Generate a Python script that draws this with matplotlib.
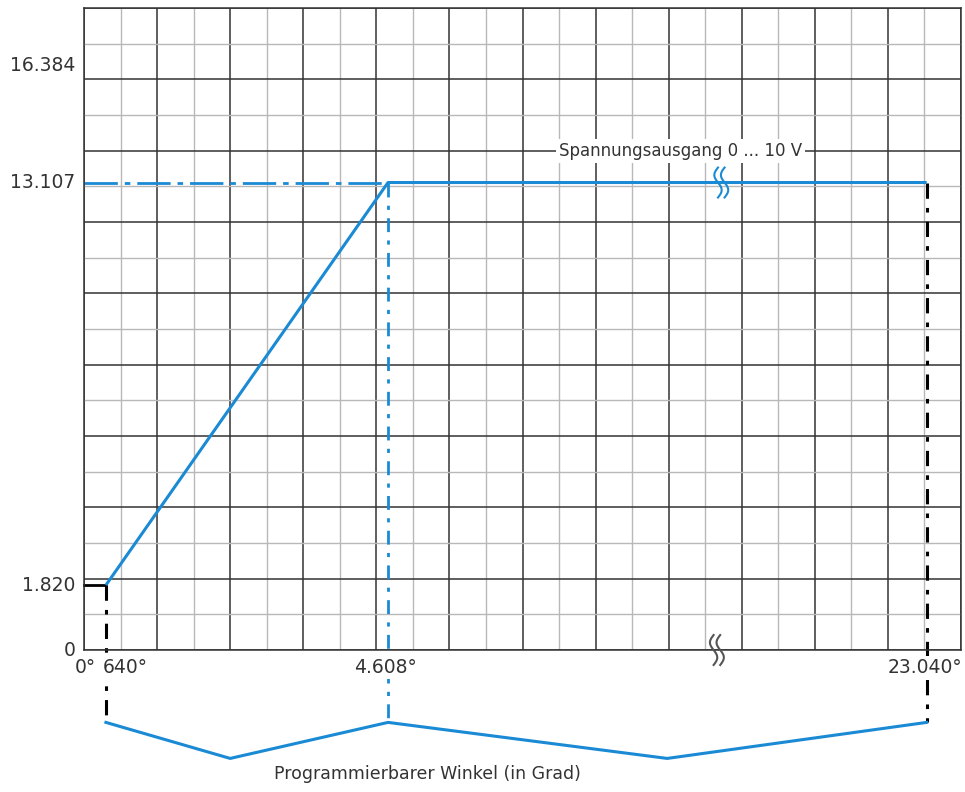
import numpy as np
import matplotlib
matplotlib.use('Agg')
import matplotlib.pyplot as plt

# Werte (Ausgangswert) und Winkel
y_values = [0, 1820, 13107, 16384]
y_labels = ['0', '1.820', '13.107', '16.384']

# Winkel-Positionen auf der schematischen x-Achse (in Rastereinheiten)
x_pos = [0, 0.30, 4.16, 11.53]
x_labels = ['0°', '640°', '4.608°', '23.040°']

# Kennlinie: Start bei 640°/1.820, Ende Rampe bei 4.608°/13.107, dann konstant bis 23.040°
line_x = [x_pos[1], x_pos[2], x_pos[3]]
line_y = [y_values[1], y_values[2], y_values[2]]

# Klammer unter der Achse (Ecken in Rastereinheiten, y in Werteinheiten)
bracket_x = [x_pos[1], 2.0, x_pos[2], 7.98, x_pos[3]]
bracket_y = [-2030, -3040, -2030, -3040, -2030]

blue = '#1a8ad4'
dark = '#333333'

fig = plt.figure(figsize=(9.65, 7.92), dpi=100)
ax = fig.add_axes([84/965, 1 - 650/792, 877/965, 642/792])
ax.set_xlim(0, 12)
ax.set_ylim(0, 18000)

ax.set_xticks(np.arange(0, 13, 1))
ax.set_xticks(np.arange(0.5, 12, 1), minor=True)
ax.set_yticks(np.arange(0, 18001, 2000))
ax.set_yticks(np.arange(1000, 18000, 2000), minor=True)
ax.grid(which='major', color=dark, linewidth=1.1)
ax.grid(which='minor', color='#b8b8b8', linewidth=1.0)
ax.tick_params(which='both', length=0, labelbottom=False, labelleft=False)
ax.set_axisbelow(True)
for s in ax.spines.values():
    s.set_color(dark)
    s.set_linewidth(1.1)

# Hilfslinien
ax.plot([0, x_pos[2]], [y_values[2], y_values[2]], color=blue, lw=2,
        linestyle=(0, (12, 2.5, 2, 2.5)))
ax.plot([x_pos[2], x_pos[2]], [y_values[2], bracket_y[2]], color=blue, lw=2,
        linestyle=(0, (5, 3, 1.5, 3)), clip_on=False)
ax.plot([0, x_pos[1]], [y_values[1], y_values[1]], color='black', lw=2, clip_on=False)
ax.plot([x_pos[1], x_pos[1]], [y_values[1], bracket_y[0]], color='black', lw=2.2,
        linestyle=(0, (5, 3, 1.5, 3)), clip_on=False)
ax.plot([x_pos[3], x_pos[3]], [y_values[2], bracket_y[4]], color='black', lw=2.2,
        linestyle=(0, (5, 3, 1.5, 3)), clip_on=False)

# Kennlinie
ax.plot(line_x, line_y, color=blue, lw=2.2, solid_capstyle='butt', zorder=5)

# Klammer
ax.plot(bracket_x, bracket_y, color=blue, lw=2.2, clip_on=False)

# Unterbrechungszeichen
t = np.linspace(-1, 1, 60)
for xc, yc, col in [(8.72, y_values[2], blue), (8.66, 0, '#555555')]:
    for dx in (-0.045, 0.045):
        xs = xc + dx - 0.05 * np.sin(np.pi * t)
        ys = yc + t * 420
        ax.plot(xs, ys, color=col, lw=1.5, clip_on=False, zorder=6)

# Beschriftungen
fs = 13.5
tc = '#333333'
wbox = dict(facecolor='white', edgecolor='none', pad=1.5)
for v, lab in zip(y_values, y_labels):
    ax.text(-0.12, v, lab, ha='right', va='center', fontsize=fs, color=tc, clip_on=False)
ax.text(x_pos[0] + 0.02, -500, x_labels[0], ha='center', va='center', fontsize=fs, color=tc,
        bbox=wbox, zorder=10)
ax.text(x_pos[1] - 0.04, -500, x_labels[1], ha='left', va='center', fontsize=fs, color=tc,
        bbox=wbox, zorder=10)
ax.text(x_pos[2] - 0.03, -500, x_labels[2], ha='center', va='center', fontsize=fs, color=tc,
        bbox=wbox, zorder=10)
ax.text(x_pos[3] - 0.02, -500, x_labels[3], ha='center', va='center', fontsize=fs, color=tc,
        bbox=wbox, zorder=10)

ax.text(8.16, 14000, 'Spannungsausgang 0 ... 10 V', ha='center', va='center', fontsize=12,
        color=tc, bbox=dict(facecolor='white', edgecolor='none', pad=2))
ax.text(4.7, -3480, 'Programmierbarer Winkel (in Grad)', ha='center', va='center',
        fontsize=12.5, color=tc)

fig.savefig('out.png', dpi=100)
